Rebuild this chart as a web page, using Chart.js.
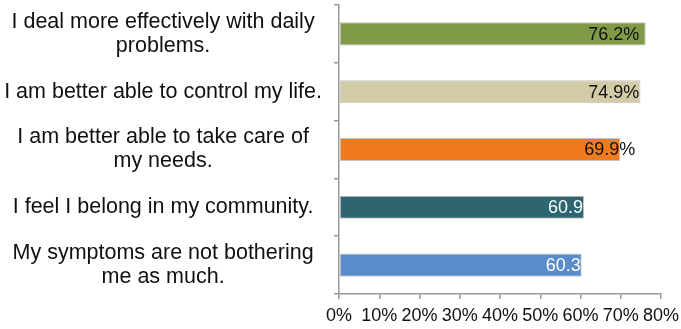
<!DOCTYPE html>
<html>
<head>
<meta charset="utf-8">
<script src="https://cdn.jsdelivr.net/npm/chart.js@4"></script>
<style>
  html, body { margin: 0; padding: 0; background: #fff; }
  #wrap { width: 681px; height: 329px; }
</style>
</head>
<body>
<div id="wrap"><canvas id="myChart"></canvas></div>
<script>
var categories = [
    ['I deal more effectively with daily', 'problems.'],
    'I am better able to control my life.',
    ['I am better able to take care of', 'my needs.'],
    'I feel I belong in my community.',
    ['My symptoms are not bothering', 'me as much.']
];
var values = [76.2, 74.9, 69.9, 60.9, 60.3];
var xTicks = [0, 10, 20, 30, 40, 50, 60, 70, 80];

var barColors = ['#809a48', '#d3cba5', '#ef7b1d', '#2d6571', '#598ccb'];
var labelColors = ['#111', '#111', '#111', '#fff', '#fff'];
var fontFamily = '"Liberation Sans", Arial, sans-serif';
var axisColor = '#9a9a9a';

// value labels drawn inside the bar ends
var barLabels = {
    id: 'barLabels',
    afterDatasetsDraw: function(chart){
        var c = chart.ctx;
        var meta = chart.getDatasetMeta(0);
        var xs = chart.scales.x;
        c.save();
        c.font = '18px ' + fontFamily;
        c.textAlign = 'right';
        c.textBaseline = 'middle';
        meta.data.forEach(function(bar, i){
            var x = Math.min(bar.x + 15, xs.getPixelForValue(74.6));
            c.fillStyle = labelColors[i];
            c.fillText(values[i].toFixed(1) + '%', x, bar.y + 1);
        });
        c.restore();
    }
};

var ctx = document.getElementById('myChart').getContext('2d');
var myChart = new Chart(ctx, {
    type: 'bar',
    data: {
        labels: categories,
        datasets: [{
            data: values,
            backgroundColor: barColors,
            borderColor: '#c4c4c4',
            borderWidth: 1,
            borderSkipped: false,
            categoryPercentage: 1,
            barPercentage: 0.4
        }]
    },
    options: {
        indexAxis: 'y',
        maintainAspectRatio: false,
        responsive: true,
        animation: false,
        layout: { padding: { top: 5, right: 20, left: 0, bottom: 0 } },
        plugins: {
            legend: { display: false },
            tooltip: { enabled: false }
        },
        scales: {
            x: {
                min: 0,
                max: 80,
                afterBuildTicks: function(axis){
                    axis.ticks = xTicks.map(function(v){ return { value: v }; });
                },
                afterFit: function(axis){
                    axis.height = 35;
                    axis.paddingLeft = 0;
                    axis.paddingRight = 0;
                },
                grid: { drawOnChartArea: false, drawTicks: true, tickLength: 5, color: axisColor, lineWidth: 1.5 },
                border: { color: axisColor, width: 1.5 },
                ticks: {
                    padding: 6,
                    color: '#111',
                    font: { family: fontFamily, size: 18 },
                    maxRotation: 0,
                    autoSkip: false,
                    callback: function(v){ return v + '%'; }
                }
            },
            y: {
                afterFit: function(axis){
                    axis.width = 339;
                    axis.paddingTop = 0;
                    axis.paddingBottom = 0;
                },
                grid: { drawOnChartArea: false, drawTicks: true, tickLength: 5, color: axisColor, lineWidth: 1.5 },
                border: { color: axisColor, width: 1.5 },
                ticks: {
                    padding: 12,
                    crossAlign: 'center',
                    color: '#111',
                    font: { family: fontFamily, size: 21.5, lineHeight: 1.12 }
                }
            }
        }
    },
    plugins: [barLabels]
});
</script>
</body>
</html>
